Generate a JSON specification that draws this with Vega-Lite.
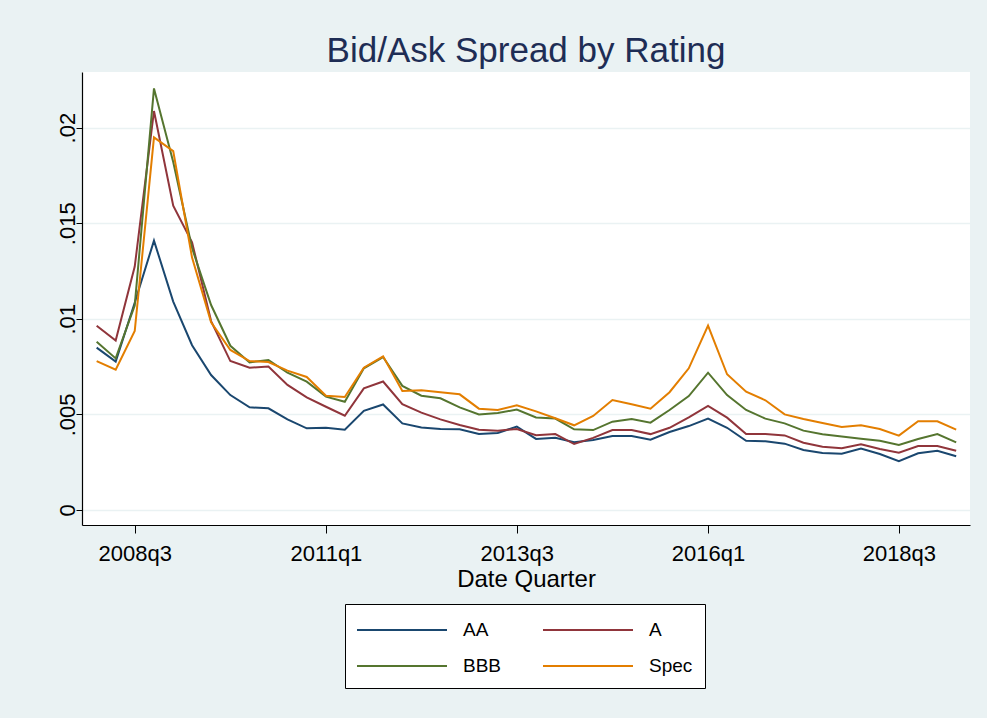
{
  "$schema": "https://vega.github.io/schema/vega-lite/v6.json",
  "width": 888,
  "height": 453,
  "autosize": "none",
  "padding": {"left": 82, "top": 72, "right": 17, "bottom": 193},
  "background": "#EAF2F3",
  "title": {"text": "Bid/Ask Spread by Rating", "fontSize": 35, "font": "Liberation Sans, sans-serif", "fontWeight": "normal", "color": "#1e2d55", "anchor": "middle", "offset": 3},
  "config": {"view": {"fill": "white", "stroke": null}},
  "data": {"values": [
    {"date": "2008-01-01T00:00", "AA": 0.00849, "A": 0.00964, "BBB": 0.0088, "Spec": 0.00779},
    {"date": "2008-04-01T00:00", "AA": 0.00776, "A": 0.00886, "BBB": 0.00793, "Spec": 0.00734},
    {"date": "2008-07-01T00:00", "AA": 0.01084, "A": 0.01273, "BBB": 0.0107, "Spec": 0.00936},
    {"date": "2008-10-01T00:00", "AA": 0.01409, "A": 0.02087, "BBB": 0.02205, "Spec": 0.01949},
    {"date": "2009-01-01T00:00", "AA": 0.0109, "A": 0.01592, "BBB": 0.0182, "Spec": 0.01877},
    {"date": "2009-04-01T00:00", "AA": 0.00862, "A": 0.0140, "BBB": 0.0137, "Spec": 0.0132},
    {"date": "2009-07-01T00:00", "AA": 0.00706, "A": 0.00988, "BBB": 0.01072, "Spec": 0.00982},
    {"date": "2009-10-01T00:00", "AA": 0.00601, "A": 0.00779, "BBB": 0.00859, "Spec": 0.00837},
    {"date": "2010-01-01T00:00", "AA": 0.00537, "A": 0.00744, "BBB": 0.00772, "Spec": 0.00779},
    {"date": "2010-04-01T00:00", "AA": 0.00532, "A": 0.00751, "BBB": 0.00785, "Spec": 0.00774},
    {"date": "2010-07-01T00:00", "AA": 0.00474, "A": 0.00654, "BBB": 0.00718, "Spec": 0.00729},
    {"date": "2010-10-01T00:00", "AA": 0.00427, "A": 0.00589, "BBB": 0.00671, "Spec": 0.00696},
    {"date": "2011-01-01T00:00", "AA": 0.0043, "A": 0.0054, "BBB": 0.00593, "Spec": 0.00598},
    {"date": "2011-04-01T00:00", "AA": 0.0042, "A": 0.00493, "BBB": 0.00566, "Spec": 0.00591},
    {"date": "2011-07-01T00:00", "AA": 0.00519, "A": 0.00636, "BBB": 0.00741, "Spec": 0.00744},
    {"date": "2011-10-01T00:00", "AA": 0.00552, "A": 0.00672, "BBB": 0.008, "Spec": 0.00804},
    {"date": "2012-01-01T00:00", "AA": 0.00453, "A": 0.00554, "BBB": 0.00649, "Spec": 0.00622},
    {"date": "2012-04-01T00:00", "AA": 0.00432, "A": 0.00509, "BBB": 0.00598, "Spec": 0.00626},
    {"date": "2012-07-01T00:00", "AA": 0.00424, "A": 0.00474, "BBB": 0.00584, "Spec": 0.00616},
    {"date": "2012-10-01T00:00", "AA": 0.00422, "A": 0.00445, "BBB": 0.00537, "Spec": 0.00605},
    {"date": "2013-01-01T00:00", "AA": 0.00397, "A": 0.0042, "BBB": 0.005, "Spec": 0.0053},
    {"date": "2013-04-01T00:00", "AA": 0.00403, "A": 0.00415, "BBB": 0.00507, "Spec": 0.00523},
    {"date": "2013-07-01T00:00", "AA": 0.00436, "A": 0.00424, "BBB": 0.00525, "Spec": 0.00548},
    {"date": "2013-10-01T00:00", "AA": 0.00372, "A": 0.00391, "BBB": 0.00484, "Spec": 0.00516},
    {"date": "2014-01-01T00:00", "AA": 0.00378, "A": 0.00397, "BBB": 0.00478, "Spec": 0.0048},
    {"date": "2014-04-01T00:00", "AA": 0.00354, "A": 0.00345, "BBB": 0.00422, "Spec": 0.00443},
    {"date": "2014-07-01T00:00", "AA": 0.00366, "A": 0.00377, "BBB": 0.00418, "Spec": 0.00492},
    {"date": "2014-10-01T00:00", "AA": 0.00387, "A": 0.00418, "BBB": 0.00462, "Spec": 0.00575},
    {"date": "2015-01-01T00:00", "AA": 0.00387, "A": 0.00418, "BBB": 0.00476, "Spec": 0.00553},
    {"date": "2015-04-01T00:00", "AA": 0.00368, "A": 0.00397, "BBB": 0.00457, "Spec": 0.0053},
    {"date": "2015-07-01T00:00", "AA": 0.00408, "A": 0.0043, "BBB": 0.00523, "Spec": 0.00616},
    {"date": "2015-10-01T00:00", "AA": 0.00439, "A": 0.00485, "BBB": 0.00596, "Spec": 0.00741},
    {"date": "2016-01-01T00:00", "AA": 0.00478, "A": 0.00545, "BBB": 0.00718, "Spec": 0.00964},
    {"date": "2016-04-01T00:00", "AA": 0.0043, "A": 0.00483, "BBB": 0.00601, "Spec": 0.0071},
    {"date": "2016-07-01T00:00", "AA": 0.00362, "A": 0.00397, "BBB": 0.00523, "Spec": 0.00619},
    {"date": "2016-10-01T00:00", "AA": 0.00359, "A": 0.00397, "BBB": 0.00478, "Spec": 0.00574},
    {"date": "2017-01-01T00:00", "AA": 0.00347, "A": 0.0039, "BBB": 0.00453, "Spec": 0.005},
    {"date": "2017-04-01T00:00", "AA": 0.00314, "A": 0.00352, "BBB": 0.00415, "Spec": 0.00476},
    {"date": "2017-07-01T00:00", "AA": 0.00298, "A": 0.00331, "BBB": 0.00396, "Spec": 0.00455},
    {"date": "2017-10-01T00:00", "AA": 0.00294, "A": 0.00323, "BBB": 0.00385, "Spec": 0.00434},
    {"date": "2018-01-01T00:00", "AA": 0.00321, "A": 0.00344, "BBB": 0.00373, "Spec": 0.00443},
    {"date": "2018-04-01T00:00", "AA": 0.00293, "A": 0.00319, "BBB": 0.00362, "Spec": 0.00424},
    {"date": "2018-07-01T00:00", "AA": 0.00255, "A": 0.003, "BBB": 0.0034, "Spec": 0.00389},
    {"date": "2018-10-01T00:00", "AA": 0.00297, "A": 0.00335, "BBB": 0.00371, "Spec": 0.00464},
    {"date": "2019-01-01T00:00", "AA": 0.0031, "A": 0.00335, "BBB": 0.00397, "Spec": 0.00464},
    {"date": "2019-04-01T00:00", "AA": 0.00281, "A": 0.0031, "BBB": 0.00354, "Spec": 0.0042}
  ]},
  "transform": [{"fold": ["AA", "A", "BBB", "Spec"], "as": ["rating", "spread"]}],
  "mark": {"type": "line", "strokeWidth": 2},
  "encoding": {
    "x": {
      "field": "date", "type": "temporal",
      "scale": {"domain": [{"year": 2007, "month": 10, "date": 23}, {"year": 2019, "month": 6, "date": 6}]},
      "axis": {
        "values": [{"year": 2008, "month": 7, "date": 1}, {"year": 2011, "month": 1, "date": 1}, {"year": 2013, "month": 7, "date": 1}, {"year": 2016, "month": 1, "date": 1}, {"year": 2018, "month": 7, "date": 1}],
        "format": "%Yq%q", "title": "Date Quarter", "grid": false,
        "domainColor": "black", "domainWidth": 1.2, "tickColor": "black", "tickSize": 8, "tickWidth": 1,
        "labelFont": "Liberation Sans, sans-serif", "labelFontSize": 22, "labelColor": "black", "labelPadding": 10, "labelFlush": false,
        "titleFont": "Liberation Sans, sans-serif", "titleFontSize": 24, "titleFontWeight": "normal", "titleColor": "black", "titlePadding": 3
      }
    },
    "y": {
      "field": "spread", "type": "quantitative",
      "scale": {"domain": [-0.000785, 0.02291], "nice": false, "zero": false},
      "axis": {
        "values": [0, 0.005, 0.01, 0.015, 0.02],
        "labelExpr": "datum.value == 0 ? '0' : replace(format(datum.value, '~g'), '0.', '.')",
        "title": null, "grid": true, "gridColor": "#EAF2F3", "gridWidth": 1.5,
        "domainColor": "black", "domainWidth": 1.2, "tickColor": "black", "tickSize": 6, "tickWidth": 1,
        "labelFont": "Liberation Sans, sans-serif", "labelFontSize": 22, "labelColor": "black",
        "labelAngle": -90, "labelAlign": "center", "labelBaseline": "alphabetic", "labelPadding": 2
      }
    },
    "color": {
      "field": "rating", "type": "nominal",
      "scale": {"domain": ["AA", "A", "BBB", "Spec"], "range": ["#1a476f", "#90353b", "#55752f", "#e37e00"]},
      "legend": {
        "title": null, "orient": "none", "legendX": 263, "legendY": 532, "columns": 2, "direction": "horizontal",
        "symbolType": "M-1.077,0H5.846", "symbolSize": 676, "symbolStrokeWidth": 2,
        "labelFont": "Liberation Sans, sans-serif", "labelFontSize": 19, "labelColor": "black", "labelOffset": 78,
        "fillColor": "white", "strokeColor": "black", "padding": 12, "columnPadding": 36, "rowPadding": 12
      }
    }
  }
}
